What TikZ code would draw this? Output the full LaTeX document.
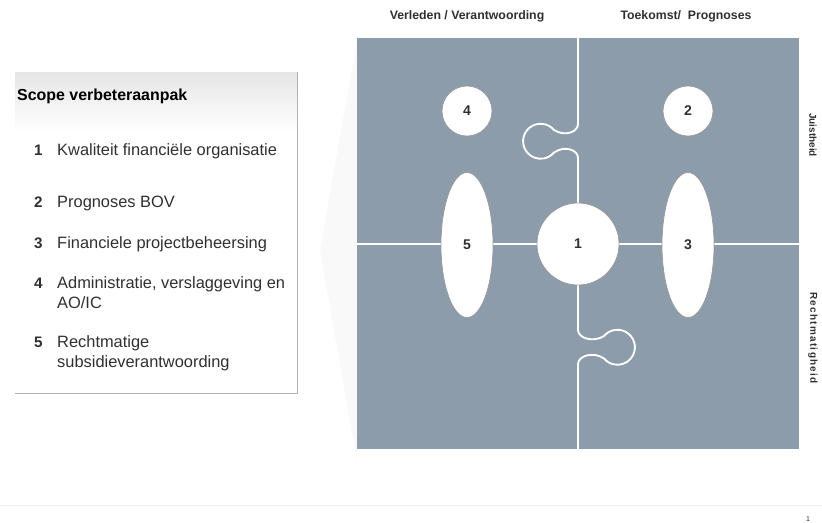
\documentclass[tikz,border=0pt]{standalone}
\usepackage{fontspec}
\setmainfont{Liberation Sans}
\usepackage{tikz}
\usetikzlibrary{positioning,shapes.geometric}
\definecolor{puzzel}{HTML}{8C9CAB}
\definecolor{tekst}{HTML}{303030}
\tikzset{
  stuk/.style={circle,fill=white,draw=gray!80,line width=0.6pt,inner sep=0pt,
    font=\bfseries\fontsize{12}{14}\selectfont,text=tekst},
  ovaal/.style={ellipse,fill=white,draw=gray!80,line width=0.6pt,inner sep=0pt,
    minimum width=1.56cm,minimum height=4.35cm,
    font=\bfseries\fontsize{12}{14}\selectfont,text=tekst},
  naad/.style={white,line width=1.6pt},
  kop/.style={font=\bfseries\fontsize{10.5}{12}\selectfont,text=tekst},
  kant/.style={font=\bfseries\fontsize{8.5}{10}\selectfont,text=tekst,rotate=-90},
  nummer/.style={anchor=base west,inner sep=0pt,font=\bfseries\fontsize{13}{15}\selectfont,text=tekst},
  punt/.style={anchor=base west,inner sep=0pt,align=left,
    font=\fontsize{14}{17.5}\selectfont,text=tekst},
}

\begin{document}
\begin{tikzpicture}[x=0.03cm,y=-0.03cm]
\useasboundingbox (0,0) rectangle (822,522);

% Kader met de scope
\shade[top color=gray!20,bottom color=white] (15,72) rectangle (297,132);
\draw[gray!60] (297,72) -- (297,393) -- (15,393);
\node[anchor=base west,inner sep=0pt,font=\bfseries\fontsize{13.6}{15}\selectfont] (titel) at (17,100) {Scope verbeteraanpak};

% Punten (bij twee regels staat het anker op de laatste regel)
\node[nummer] (nr1) at (34,155) {1};
\node[punt] (punt1) at (57,155) {Kwaliteit financiële organisatie};
\node[nummer] (nr2) at (34,207) {2};
\node[punt] (punt2) at (57,207) {Prognoses BOV};
\node[nummer] (nr3) at (34,248) {3};
\node[punt] (punt3) at (57,248) {Financiele projectbeheersing};
\node[nummer] (nr4) at (34,288) {4};
\node[punt] (punt4) at (57,308.5) {Administratie, verslaggeving en\\AO/IC};
\node[nummer] (nr5) at (34,347) {5};
\node[punt] (punt5) at (57,367.5) {Rechtmatige\\subsidieverantwoording};

% Wig tussen kader en puzzel
\fill[gray!5] (357,40) -- (320,250) -- (357,462) -- cycle;

% Puzzel
\fill[puzzel] (357,38) rectangle (799,449);
\draw[naad] (357,244) -- (799,244);
\draw[naad] (578,38) -- (578,124)
  .. controls (578,132) and (565,137) .. (554,130)
  arc[start angle=-40,end angle=-320,radius=17.5]
  .. controls (565,145) and (578,150) .. (578,158) -- (578,330)
  .. controls (578,338) and (593,343) .. (604,336)
  arc[start angle=-140,end angle=140,radius=17.5]
  .. controls (593,351) and (578,356) .. (578,364) -- (578,449);

% Stukken
\node[stuk,minimum size=2.46cm] (s1) at (578,244) {1};
\node[stuk,minimum size=1.5cm] (s4) at (467,111) {4};
\node[stuk,minimum size=1.5cm] (s2) at (688,111) {2};
\node[ovaal] (s5) at (467,245) {5};
\node[ovaal] (s3) at (688,245) {3};

% Assen
\node[kop] (verleden) at (467,16) {Verleden / Verantwoording};
\node[kop] (toekomst) at (686,16) {Toekomst/\ \ Prognoses};
\node[kant] (juist) at (813,135) {Juistheid};
\node[kant,font=\bfseries\fontsize{8.5}{10}\selectfont\addfontfeature{LetterSpace=13}] (recht) at (813,338) {Rechtmatigheid};

% Voetregel
\draw[gray!15] (0,505) -- (822,505);
\node[font=\fontsize{6}{7}\selectfont,text=tekst] (pagina) at (808,519) {1};
\end{tikzpicture}
\end{document}
